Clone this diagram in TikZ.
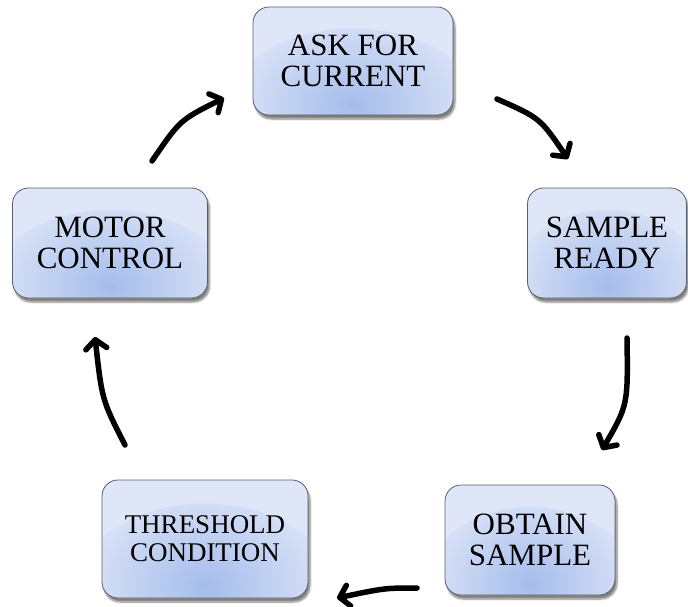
\documentclass[tikz,border=0pt]{standalone}
\usepackage{fontspec}
\setmainfont{Liberation Serif}
\usetikzlibrary{arrows.meta,shadows.blur}
\definecolor{boxlight}{HTML}{DEE6F8}
\definecolor{boxmid}{HTML}{A5BCEB}
\definecolor{boxedge}{HTML}{5A5E68}
\tikzset{
  stepbox/.style={draw=boxedge, line width=0.8pt, rounded corners=16pt,
    fill=boxlight, align=center, inner sep=0pt,
    font=\fontsize{31}{31}\selectfont,
    blur shadow={shadow xshift=2pt, shadow yshift=-4pt, shadow blur steps=6, shadow opacity=50},
    path picture={\shade[inner color=boxmid, outer color=boxlight]
      (path picture bounding box.south) ellipse [x radius=0.65*\pgfkeysvalueof{/pgf/minimum width}, y radius=0.8*\pgfkeysvalueof{/pgf/minimum height}];}},
  flow/.style={line width=5.5pt, line cap=round, line join=round,
    -{Straight Barb[length=9pt, width=21pt, line cap=round, line join=round]}}
}
\begin{document}
\begin{tikzpicture}[x=1pt, y=-1pt]
\useasboundingbox (0,0) rectangle (688,607);
\node[stepbox, minimum width=200pt, minimum height=108pt] (ask) at (353,61) {ASK FOR\\CURRENT};
\node[stepbox, minimum width=159pt, minimum height=110pt] (ready) at (607,243) {SAMPLE\\READY};
\node[stepbox, minimum width=170pt, minimum height=110pt] (obtain) at (530,540) {OBTAIN\\SAMPLE};
\node[stepbox, minimum width=206pt, minimum height=118pt, font=\fontsize{27}{28}\selectfont] (thresh) at (205,539) {THRESHOLD\\CONDITION};
\node[stepbox, minimum width=195pt, minimum height=110pt] (motor) at (110,243) {MOTOR\\CONTROL};

\coordinate (a1s) at (497,99);  \coordinate (a1e) at (568,159);
\coordinate (a2s) at (627,338); \coordinate (a2e) at (602,450);
\coordinate (a3s) at (417,588); \coordinate (a3e) at (337,598);
\coordinate (a4s) at (125,445); \coordinate (a4e) at (95,337);
\coordinate (a5s) at (152,161); \coordinate (a5e) at (224,98);

\draw[flow] (a1s) .. controls (540,118) .. (a1e);
\draw[flow] (a2s) .. controls (628,405) .. (a2e);
\draw[flow] (a3s) .. controls (385,588) .. (a3e);
\draw[flow] (a4s) .. controls (102,400) .. (a4e);
\draw[flow] (a5s) .. controls (180,120) .. (a5e);
\end{tikzpicture}
\end{document}
